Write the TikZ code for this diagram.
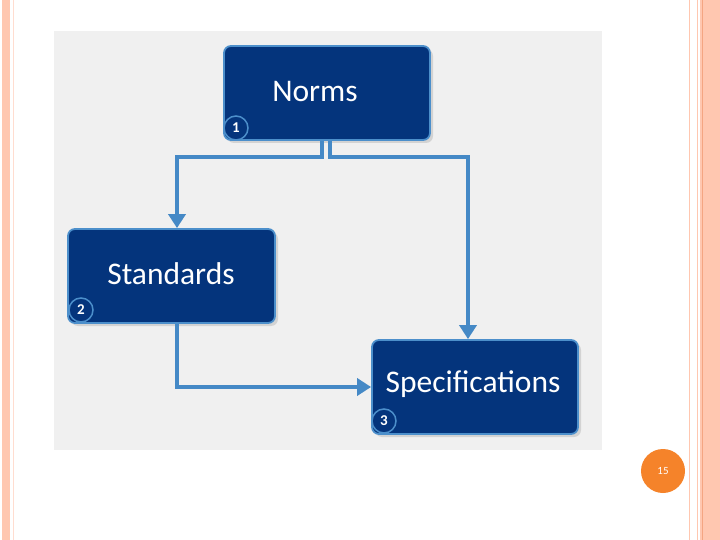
\documentclass[tikz,border=0pt]{standalone}
\usepackage{fontspec}
\setmainfont{Carlito}
\usetikzlibrary{arrows.meta,shadows}
\definecolor{stripe}{HTML}{FFC7B0}
\definecolor{stripedark}{HTML}{F4A582}
\definecolor{panel}{HTML}{F0F0F0}
\definecolor{boxblue}{HTML}{04347C}
\definecolor{rimblue}{HTML}{4C8FCB}
\definecolor{linkblue}{HTML}{4589C6}
\definecolor{pageorange}{HTML}{F5832A}
\tikzset{
  stepbox/.style={draw=rimblue, line width=1.8pt, fill=boxblue, rounded corners=7pt,
    drop shadow={shadow xshift=3pt, shadow yshift=-3pt, opacity=0.25, fill=black!50}},
  label/.style={text=white, font=\fontsize{31.5}{33}\selectfont, inner sep=0pt},
  numdot/.style={circle, draw=rimblue, line width=1.5pt, fill=boxblue, text=white,
    font=\bfseries\fontsize{15}{15}\selectfont, minimum size=24pt, inner sep=0pt},
  link/.style={draw=linkblue, line width=4pt},
  arrowlink/.style={link, -{Triangle[length=14pt,width=17pt]}},
}
\begin{document}
\begin{tikzpicture}[x=1pt,y=-1pt]
\useasboundingbox (0,0) rectangle (720,540);
\fill[white] (0,0) rectangle (720,540);
% slide stripes
\fill[stripe] (2,0) rectangle (10,540);
\draw[stripe!60, line width=0.6pt] (13,0) -- (13,540);
\draw[stripe, line width=0.8pt] (689,0) -- (689,540);
\draw[stripe, line width=0.8pt] (697,0) -- (697,540);
\fill[stripe] (700,0) rectangle (720,540);
\draw[stripedark, line width=1pt] (702.5,0) -- (702.5,540);
% panel
\fill[panel] (54,31) rectangle (602,450);
% boxes
\node[stepbox, minimum width=206pt, minimum height=94pt] (norms) at (327,93) {};
\node[stepbox, minimum width=207pt, minimum height=94pt] (std) at (171.5,276) {};
\node[stepbox, minimum width=206pt, minimum height=94pt] (spec) at (475,387) {};
\node[label] (tn) at (315,92) {Norms};
\node[label] (ts) at (171,274) {Standards};
\node[label] (tp) at (473,384) {Specifications};
\node[numdot] (n1) at (236,128) {1};
\node[numdot] (n2) at (81,310) {2};
\node[numdot] (n3) at (384,421) {3};
% connectors
\coordinate (ca) at (322,157);
\coordinate (cb) at (330,157);
\draw[arrowlink] (norms.south -| ca) -- (ca) -- (177,157) -- (std.north -| 177,0);
\draw[arrowlink] (norms.south -| cb) -- (cb) -- (468,157) -- (spec.north -| 468,0);
\draw[arrowlink] (std.south -| 177,0) -- (177,387) -- (spec.west);
% page number
\node[circle, fill=pageorange, minimum size=44pt, inner sep=0pt, text=white,
  font=\fontsize{11}{11}\selectfont] (page) at (663,471) {15};
\end{tikzpicture}
\end{document}
